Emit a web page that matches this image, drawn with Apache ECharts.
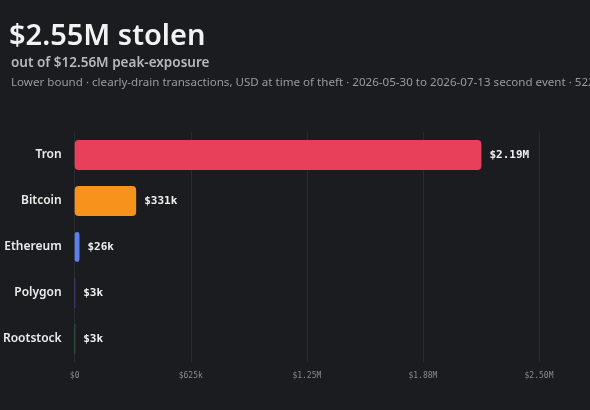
<!DOCTYPE html><html><head><meta charset="utf-8">
<script src="https://cdn.jsdelivr.net/npm/echarts@6/dist/echarts.min.js"></script>
<style>html,body{margin:0;background:#1b1c20;}#c{width:590px;height:410px;}</style></head><body><div id="c"></div>
<script>
const categories=["Tron","Bitcoin","Ethereum","Polygon","Rootstock"];
const values=[2190000,331000,26000,3000,3000];
const valueLabels=["$2.19M","$331k","$26k","$3k","$3k"];
const colors=["#e8405a","#f7931a","#5b80ec","#6a3fd0","#1e8a4e"];
const tickLabels={0:"$0",625000:"$625k",1250000:"$1.25M",1875000:"$1.88M",2500000:"$2.50M"};
const c=echarts.init(document.getElementById('c'));
c.setOption({backgroundColor:"#1b1c20",
title:[{text:"$2.55M stolen",left:4,top:17,textStyle:{color:"#f2f2f2",fontSize:29,fontWeight:600,fontFamily:"Noto Sans"}},
{text:"out of $12.56M peak-exposure",left:6,top:51,textStyle:{color:"#b8b8bd",fontSize:13.5,fontWeight:600,fontFamily:"Noto Sans"}},
{text:"Lower bound · clearly-drain transactions, USD at time of theft · 2026-05-30 to 2026-07-13 second event · 522 settled",left:6,top:72,textStyle:{color:"#9a9aa0",fontSize:11.6,fontWeight:400,fontFamily:"Noto Sans"}}],
grid:{left:74,right:51,top:132,bottom:48},
xAxis:{type:"value",min:0,max:2500000,interval:625000,axisLine:{show:false},axisTick:{show:false},
splitLine:{lineStyle:{color:"#2a2b30"}},axisLabel:{color:"#8a8a90",fontSize:8,fontFamily:"DejaVu Sans Mono",margin:10,formatter:v=>tickLabels[v]||""}},
yAxis:{type:"category",data:categories,inverse:true,axisLine:{show:false},axisTick:{show:false},
axisLabel:{color:"#ececec",fontSize:12,fontWeight:600,fontFamily:"Noto Sans",margin:13}},
series:[{type:"bar",barWidth:30,data:values.map((v,i)=>({value:v,itemStyle:{color:colors[i],borderRadius:4}})),
label:{show:true,position:"right",distance:8,color:"#f0f0f0",fontSize:11,fontWeight:"bold",fontFamily:"DejaVu Sans Mono",formatter:p=>valueLabels[p.dataIndex]}}]});
</script></body></html>
